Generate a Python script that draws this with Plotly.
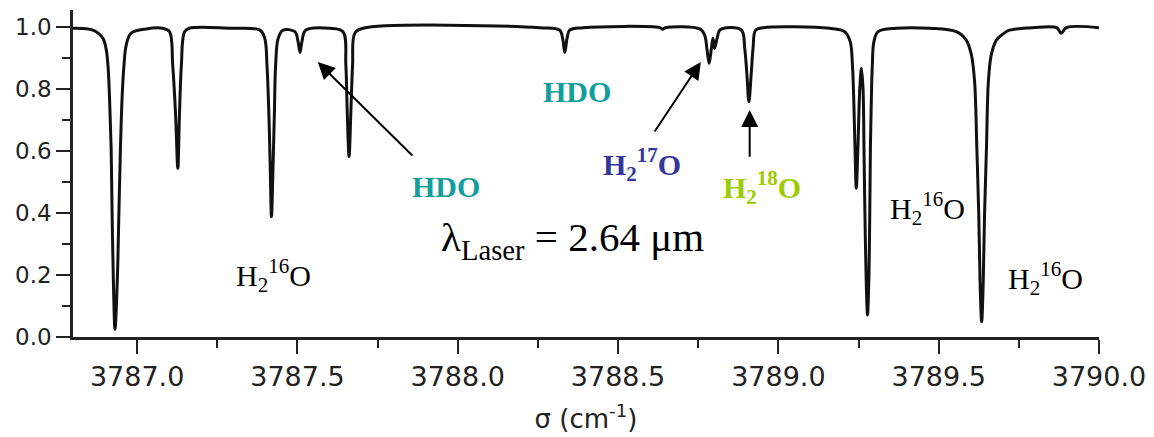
import plotly.graph_objects as go

# Wavenumber (cm^-1) and transmission
sigma = [
    3786.800, 3786.862, 3786.893, 3786.903, 3786.909, 3786.914, 3786.919, 3786.922, 3786.926, 3786.931,
    3786.938, 3786.943, 3786.948, 3786.953, 3786.959, 3786.966, 3786.981, 3787.028, 3787.080, 3787.101,
    3787.111, 3787.120, 3787.127, 3787.132, 3787.138, 3787.148, 3787.163, 3787.289, 3787.383, 3787.398,
    3787.405, 3787.411, 3787.415, 3787.419, 3787.424, 3787.428, 3787.432, 3787.440, 3787.455, 3787.492,
    3787.502, 3787.508, 3787.514, 3787.526, 3787.601, 3787.642, 3787.651, 3787.655, 3787.661, 3787.667,
    3787.672, 3787.679, 3787.705, 3788.256, 3788.318, 3788.327, 3788.334, 3788.341, 3788.349, 3788.391,
    3788.630, 3788.639, 3788.648, 3788.755, 3788.770, 3788.777, 3788.784, 3788.791, 3788.796, 3788.801,
    3788.809, 3788.817, 3788.838, 3788.885, 3788.895, 3788.902, 3788.908, 3788.915, 3788.921, 3788.929,
    3788.952, 3789.160, 3789.207, 3789.224, 3789.231, 3789.235, 3789.239, 3789.243, 3789.248, 3789.254,
    3789.259, 3789.264, 3789.267, 3789.270, 3789.274, 3789.278, 3789.282, 3789.285, 3789.287, 3789.290,
    3789.293, 3789.298, 3789.311, 3789.368, 3789.472, 3789.555, 3789.586, 3789.602, 3789.612, 3789.619,
    3789.625, 3789.629, 3789.634, 3789.639, 3789.643, 3789.649, 3789.655, 3789.664, 3789.680, 3789.690,
    3789.711, 3789.721, 3789.793, 3789.868, 3789.882, 3789.898, 3790.000,
]
transmission = [
    0.996, 0.990, 0.964, 0.931, 0.877, 0.770, 0.609, 0.394, 0.178, 0.025,
    0.178, 0.394, 0.609, 0.770, 0.877, 0.942, 0.980, 0.994, 0.996, 0.985,
    0.877, 0.716, 0.544, 0.716, 0.877, 0.985, 0.996, 0.996, 0.990, 0.964,
    0.877, 0.716, 0.555, 0.388, 0.555, 0.716, 0.877, 0.964, 0.990, 0.985,
    0.953, 0.918, 0.953, 0.990, 0.996, 0.985, 0.877, 0.738, 0.582, 0.738,
    0.877, 0.980, 0.996, 0.998, 0.990, 0.964, 0.918, 0.964, 0.990, 0.998,
    0.998, 0.993, 0.998, 0.994, 0.974, 0.931, 0.883, 0.931, 0.964, 0.931,
    0.964, 0.990, 0.998, 0.990, 0.931, 0.845, 0.759, 0.845, 0.931, 0.990,
    0.998, 0.996, 0.985, 0.953, 0.877, 0.770, 0.609, 0.480, 0.609, 0.802,
    0.867, 0.802, 0.609, 0.394, 0.178, 0.071, 0.178, 0.394, 0.609, 0.770,
    0.877, 0.953, 0.985, 0.996, 0.996, 0.985, 0.958, 0.910, 0.824, 0.609,
    0.394, 0.178, 0.049, 0.178, 0.394, 0.609, 0.824, 0.910, 0.958, 0.969,
    0.985, 0.990, 0.998, 0.998, 0.980, 0.998, 0.998,
]

x_ticks = [3787.0, 3787.5, 3788.0, 3788.5, 3789.0, 3789.5, 3790.0]
y_ticks = [0.0, 0.2, 0.4, 0.6, 0.8, 1.0]

# Labels
label_text = ["HDO", "HDO", "H<sub>2</sub><sup>17</sup>O", "H<sub>2</sub><sup>18</sup>O",
              "H<sub>2</sub><sup>16</sup>O", "H<sub>2</sub><sup>16</sup>O", "H<sub>2</sub><sup>16</sup>O"]
label_x = [3787.963, 3788.371, 3788.574, 3788.948, 3787.426, 3789.464, 3789.833]
label_y = [0.484, 0.792, 0.558, 0.482, 0.197, 0.415, 0.189]
label_color = ["#129e9a", "#129e9a", "#35359c", "#9ccc00", "#000000", "#000000", "#000000"]
label_bold = [True, True, True, True, False, False, False]

# Arrows: tip (x, y) and tail (x, y)
arrow_tip_x = [3787.5635, 3788.758, 3788.9105]
arrow_tip_y = [0.887, 0.887, 0.732]
arrow_tail_x = [3787.863, 3788.611, 3788.9105]
arrow_tail_y = [0.581, 0.658, 0.577]

fig = go.Figure()
fig.add_trace(go.Scatter(
    x=sigma, y=transmission, mode="lines",
    line=dict(color="#111111", width=3, shape="spline", smoothing=1.0),
    hoverinfo="skip", showlegend=False,
))

annotations = []
for t, x, y, c, b in zip(label_text, label_x, label_y, label_color, label_bold):
    annotations.append(dict(
        x=x, y=y, xref="x", yref="y", showarrow=False,
        text=f"<b>{t}</b>" if b else t,
        font=dict(family="Liberation Serif, Times New Roman, serif", size=30, color=c),
        xanchor="center", yanchor="middle",
    ))
for tx, ty, ax, ay in zip(arrow_tip_x, arrow_tip_y, arrow_tail_x, arrow_tail_y):
    annotations.append(dict(
        x=tx, y=ty, xref="x", yref="y", ax=ax, ay=ay, axref="x", ayref="y",
        text="", showarrow=True, arrowhead=2, arrowsize=1.7, arrowwidth=2,
        arrowcolor="#000000", standoff=0,
    ))
annotations.append(dict(
    x=3788.359, y=0.313, xref="x", yref="y", showarrow=False,
    text="λ<sub>Laser</sub> = 2.64 μm",
    font=dict(family="Liberation Serif, Times New Roman, serif", size=41, color="#000000"),
    xanchor="center", yanchor="middle",
))

axis_color = "#222222"
# page body has an 8px margin; figure sized/margined so the plot lands where the reference has it
fig.update_layout(
    width=1146, height=429,
    margin=dict(l=65, r=55, t=2, b=100),
    plot_bgcolor="white", paper_bgcolor="white",
    annotations=annotations,
    xaxis=dict(
        range=[3786.8, 3790.0], tickvals=x_ticks, tickformat=".1f",
        ticks="outside", ticklen=14, tickwidth=2, tickcolor=axis_color,
        minor=dict(dtick=0.25, tick0=3787.0, ticks="outside", ticklen=8, tickwidth=2, tickcolor=axis_color),
        showline=True, linewidth=2.5, linecolor=axis_color, showgrid=False, zeroline=False,
        tickfont=dict(family="DejaVu Sans, Arial, sans-serif", size=27, color=axis_color),
        title=dict(text="σ (cm<sup>-1</sup>)", standoff=19,
                   font=dict(family="DejaVu Sans, Arial, sans-serif", size=26, color=axis_color)),
    ),
    yaxis=dict(
        range=[0, 1.055], tickvals=y_ticks, tickformat=".1f",
        ticks="outside", ticklen=14, tickwidth=2, tickcolor=axis_color,
        minor=dict(dtick=0.1, tick0=0, ticks="outside", ticklen=8, tickwidth=2, tickcolor=axis_color),
        showline=True, linewidth=2.5, linecolor=axis_color, showgrid=False, zeroline=False,
        tickfont=dict(family="DejaVu Sans, Arial, sans-serif", size=23, color=axis_color),
    ),
)

fig.write_html("out.html")
